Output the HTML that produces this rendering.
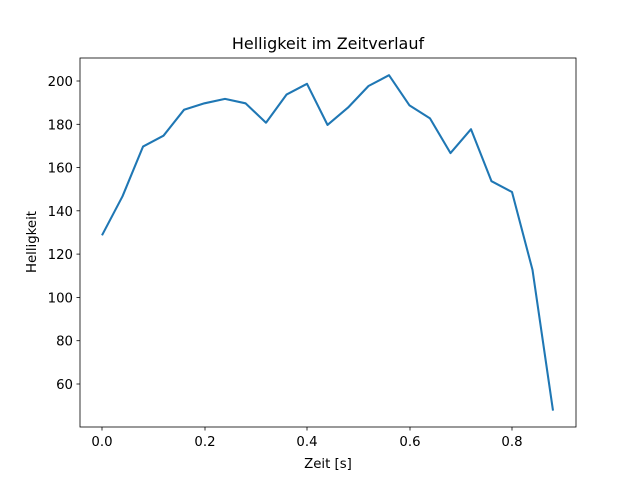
<!DOCTYPE html>
<html><head><style>body{margin:0;background:#fff}svg{display:block}text{font-family:"DejaVu Sans","Liberation Sans",sans-serif;fill:#000}</style></head><body>
<svg width="640" height="480" xmlns="http://www.w3.org/2000/svg">
<rect x="80" y="58" width="496" height="369" fill="none" stroke="#000" stroke-width="0.8"/>
<g stroke="#000" stroke-width="0.8">
<line x1="102" y1="427" x2="102" y2="430.5"/><line x1="205" y1="427" x2="205" y2="430.5"/><line x1="307" y1="427" x2="307" y2="430.5"/><line x1="410" y1="427" x2="410" y2="430.5"/><line x1="512" y1="427" x2="512" y2="430.5"/>
<line x1="76.5" y1="81" x2="80" y2="81"/><line x1="76.5" y1="124.3" x2="80" y2="124.3"/><line x1="76.5" y1="167.6" x2="80" y2="167.6"/><line x1="76.5" y1="210.8" x2="80" y2="210.8"/><line x1="76.5" y1="254.1" x2="80" y2="254.1"/><line x1="76.5" y1="297.4" x2="80" y2="297.4"/><line x1="76.5" y1="340.7" x2="80" y2="340.7"/><line x1="76.5" y1="384" x2="80" y2="384"/>
</g>
<g font-size="13.3" text-anchor="middle">
<text x="102" y="446">0.0</text><text x="205" y="446">0.2</text><text x="307" y="446">0.4</text><text x="410" y="446">0.6</text><text x="512" y="446">0.8</text>
</g>
<g font-size="13.3" text-anchor="end">
<text x="73" y="86">200</text><text x="73" y="129.3">180</text><text x="73" y="172.6">160</text><text x="73" y="215.8">140</text><text x="73" y="259.1">120</text><text x="73" y="302.4">100</text><text x="73" y="345.7">80</text><text x="73" y="389">60</text>
</g>
<text x="328" y="468" font-size="13.3" text-anchor="middle">Zeit [s]</text>
<text transform="translate(36,242) rotate(-90)" font-size="13.3" text-anchor="middle">Helligkeit</text>
<text x="328" y="49" font-size="16" text-anchor="middle">Helligkeit im Zeitverlauf</text>
<polyline fill="none" stroke="#1f77b4" stroke-width="2.08" stroke-linejoin="round" points="102.0,235.3 122.5,196.3 143.0,146.6 163.5,135.7 184.0,109.8 204.5,103.3 225.0,98.9 245.5,103.3 266.0,122.7 286.5,94.6 307.0,83.8 327.5,124.9 348.0,107.6 368.5,86.0 389.0,75.2 409.5,105.4 430.0,118.4 450.5,153.1 471.0,129.2 491.5,181.2 512.0,192.0 532.5,269.9 553.0,410.6"/>
</svg>
</body></html>
